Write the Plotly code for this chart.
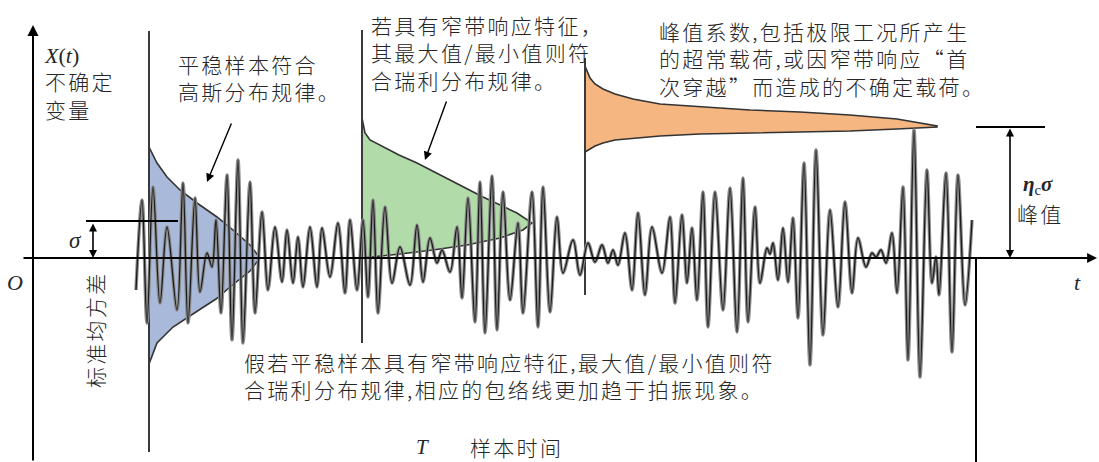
import plotly.graph_objects as go

# ---- sample record X(t): successive local extrema (time, amplitude) ----
sig_t = [136, 142, 147, 153, 160, 167, 177, 183, 188, 195, 200, 207, 212, 216, 221, 227, 232, 238, 243, 250,
         255, 262, 268, 275, 282, 287, 293, 298, 303, 310, 317, 322, 330, 338, 345, 350, 357, 363, 368, 373,
         378, 385, 392, 400, 410, 417, 423, 430, 437, 442, 450, 457, 462, 468, 475, 480, 485, 492, 497, 503,
         510, 518, 523, 532, 538, 543, 550, 557, 563, 573, 580, 588, 595, 602, 608, 613, 618, 625, 632, 638,
         645, 652, 662, 670, 675, 682, 687, 692, 697, 703, 708, 715, 723, 730, 737, 743, 748, 755, 760, 767,
         770, 773, 778, 783, 788, 793, 798, 804, 810, 816, 823, 830, 838, 845, 852, 858, 866, 872, 876, 881,
         886, 892, 897, 903, 908, 914, 920, 927, 932, 936, 939, 946, 952, 958, 965, 972]
sig_x = [-32, 58, -65, 71, -45, 31, -52, 75, -65, 60, -34, 5, -9, 38, -55, 83, -82, 98, -85, 76,
         -55, 46, -32, 31, -24, 28, -25, 21, -29, 31, -29, 30, -19, 35, -35, 38, -32, 38, -39, 58,
         -55, 51, -25, 11, -27, 33, -24, 20, -5, 8, -14, 31, -40, 60, -64, 76, -75, 82, -72, 66,
         -42, 35, -55, 66, -69, 71, -54, 41, -15, 18, -17, 15, -4, 13, -5, 8, -7, 25, -32, 45,
         -37, 31, -15, 41, -45, 43, -25, 30, -42, 66, -69, 66, -52, 70, -74, 80, -64, 51, -25, 10,
         4, 15, -22, 30, -24, 40, -60, 95, -107, 108, -77, 48, -49, 56, -35, 20, -9, 5, 1, 8,
         -5, 25, -35, 71, -102, 128, -119, 88, -25, 1, -37, 85, -94, 83, -47, 38]

# ---- Gaussian density of the stationary sample (amplitude, density width) ----
gauss_t0 = 149
gauss_amp = [111, 95, 81, 68, 55, 41, 28, 13, 0, -13, -29, -41, -52, -69, -85, -100, -106]
gauss_w = [0, 8, 18, 31, 48, 68, 84, 101, 111, 101, 81, 67, 50, 24, 8, 2, 0]

# ---- Rayleigh density of the maxima ----
rayl_t0 = 362
rayl_amp = [140, 125, 118, 111, 103, 95, 78, 61, 45, 38, 35, 28, 20, 13, 8, 4, 1, 0]
rayl_w = [0, 3, 8, 21, 37, 55, 88, 121, 155, 166, 170, 161, 138, 105, 71, 38, 5, 0]

# ---- extreme-value density of the peak ----
ext_t = [585, 590, 595, 603, 615, 633, 660, 700, 750, 800, 850, 897, 920, 937]
ext_top = [192, 180, 174, 169, 164, 159, 154, 151, 148, 146, 143, 139, 135, 132]
ext_bot = [106, 109, 112, 115, 118, 120, 122, 124, 125, 126, 127, 129, 130, 131]

# density axes (time, top, bottom)
pdf_axis_t = [149, 362, 585]
pdf_axis_top = [227, 228, 200]
pdf_axis_bot = [-194, -85, -37]

record_end = 976      # T
sigma = 37            # one standard deviation
peak = 131            # eta_c * sigma

CJK = "Noto Sans CJK SC"
SERIF = "Liberation Serif"
INK = "#262626"
EDGE = "#333333"

fig = go.Figure()

# Gaussian
fig.add_trace(go.Scatter(
    x=[gauss_t0 + w for w in gauss_w], y=gauss_amp, mode="lines",
    fill="toself", fillcolor="rgb(168,185,217)", line=dict(color=EDGE, width=1.6),
    hoverinfo="skip"))
# Rayleigh
fig.add_trace(go.Scatter(
    x=[rayl_t0 + w for w in rayl_w], y=rayl_amp, mode="lines",
    fill="toself", fillcolor="rgb(178,219,170)", line=dict(color=EDGE, width=1.6),
    hoverinfo="skip"))
# extreme value
fig.add_trace(go.Scatter(
    x=ext_t + ext_t[::-1], y=ext_top + ext_bot[::-1], mode="lines",
    fill="toself", fillcolor="rgb(245,182,130)", line=dict(color=EDGE, width=1.6),
    hoverinfo="skip"))

# density axes
for t0, top, bot in zip(pdf_axis_t, pdf_axis_top, pdf_axis_bot):
    fig.add_trace(go.Scatter(x=[t0, t0], y=[bot, top], mode="lines",
                             line=dict(color="#3a3a3a", width=2), hoverinfo="skip"))

# signal: soft grey stroke with a dark core
fig.add_trace(go.Scatter(x=sig_t, y=sig_x, mode="lines",
                         line=dict(color="#8c8c8c", width=3.4, shape="spline", smoothing=1.0),
                         hoverinfo="skip"))
fig.add_trace(go.Scatter(x=sig_t, y=sig_x, mode="lines",
                         line=dict(color="#1a1a1a", width=1.3, shape="spline", smoothing=1.0),
                         hoverinfo="skip"))

shapes = [
    dict(type="line", x0=86, x1=178, y0=sigma, y1=sigma, line=dict(color="black", width=2)),
    dict(type="line", x0=record_end, x1=1045, y0=peak, y1=peak, line=dict(color="black", width=2)),
    dict(type="line", x0=record_end, x1=record_end, y0=0, y1=-204, line=dict(color="black", width=2)),
]

ann = []


def arrow(x0, y0, x1, y1, both=False, width=1.6, head=2, size=1.0):
    ann.append(dict(x=x1, y=y1, ax=x0, ay=y0, xref="x", yref="y", axref="x", ayref="y",
                    text="", showarrow=True, arrowhead=head, arrowsize=size, arrowwidth=width,
                    arrowcolor="black", arrowside="end+start" if both else "end"))


# coordinate axes
arrow(22, 0, 1097, 0, width=1.8, size=1.1)
arrow(33, -204, 33, 233, width=2, size=1.1)
# sigma and peak markers
arrow(93, sigma - 1, 93, 0, both=True, width=1.6, size=1.0)
arrow(1010, peak, 1010, 0, both=True, width=1.6, size=1.0)
# pointers to the densities
arrow(232, 136, 207, 76, width=1.4, size=1.2)
arrow(447, 158, 425, 98, width=1.4, size=1.2)


def spaced(s):
    lines = s.split("<br>")
    return "<br>".join('<span style="letter-spacing:2.3px">%s</span>' % ln for ln in lines)


def text(x, y, s, size=21, family=CJK, xa="left", ya="middle", angle=0, weight=300):
    ann.append(dict(x=x, y=y, xref="x", yref="y", text=s, showarrow=False,
                    xanchor=xa, yanchor=ya, align="left", textangle=angle,
                    font=dict(family=family, size=size, color=INK, weight=weight)))


text(176, 181, spaced("平稳样本符合<br>高斯分布规律。"))
text(369, 206, spaced("若具有窄带响应特征，<br>其最大值/最小值则符<br>合瑞利分布规律。"))
text(657, 200, spaced("峰值系数,包括极限工况所产生<br>的超常载荷,或因窄带响应“首<br>次穿越”而造成的不确定载荷。"))
text(242, -117, spaced("假若平稳样本具有窄带响应特征,最大值/最小值则符<br>合瑞利分布规律,相应的包络线更加趋于拍振现象。"))

# ordinate label: X(t) over 不确定 / 变量
xt = ('<span style="font-family:\'Liberation Serif\';font-size:22px;font-weight:400">'
      '<i>X</i>(<i>t</i>)</span>')
text(42, 175, xt + "<br>" + spaced("不确定<br>变量"))

text(15, -24, "<i>O</i>", size=22, family=SERIF, xa="center", weight=400)
text(1077, -24, "<i>t</i>", size=22, family=SERIF, xa="center", weight=400)
text(75, 18, "<i>σ</i>", size=23, family=SERIF, xa="center", weight=400)
text(95, -72, spaced("标准均方差"), angle=-90, xa="center")
text(1038, 73, "<b><i>η</i></b><sub>c</sub><b><i>σ</i></b>", size=21, family=SERIF, xa="center", weight=400)
text(1040, 45, spaced("峰值"), xa="center")
text(422, -189, "<i>T</i>", size=21, family=SERIF, xa="center", weight=400)
text(468, -189, spaced("样本时间"))

fig.update_layout(
    width=1099, height=462, margin=dict(l=0, r=0, t=0, b=0),
    paper_bgcolor="white", plot_bgcolor="white", showlegend=False,
    xaxis=dict(range=[0, 1099], visible=False, fixedrange=True),
    yaxis=dict(range=[-204, 258], visible=False, fixedrange=True),
    shapes=shapes, annotations=ann,
)

fig.write_html("out.html")
